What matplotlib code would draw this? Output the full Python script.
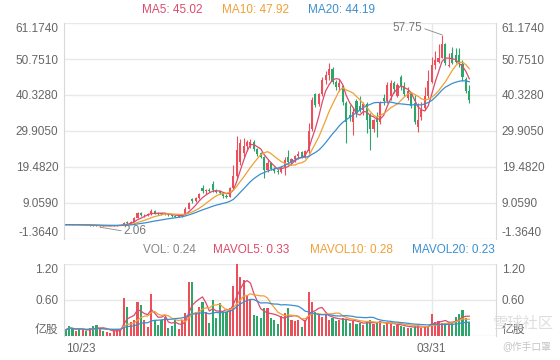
import matplotlib
matplotlib.use('Agg')
import matplotlib.pyplot as plt
import numpy as np
import pandas as pd

plt.rcParams['font.family'] = ['Liberation Sans', 'Noto Sans CJK SC', 'DejaVu Sans']

# daily candles, 10/23 .. mid April
open_ = [2.85, 2.80, 2.78, 2.74, 2.76, 2.66, 2.70, 2.58, 2.62, 2.50,
         2.40, 2.46, 2.38, 2.44, 2.54, 2.58, 2.62, 2.74, 3.50, 3.20,
         3.70, 4.80, 6.20, 5.50, 5.70, 6.00, 6.80, 6.10, 6.20, 5.80,
         6.00, 5.50, 5.40, 5.10, 5.30, 5.70, 7.40, 10.3, 9.50, 10.4,
         13.4, 12.4, 12.9, 14.5, 12.9, 12.6, 12.0, 11.2, 10.8, 13.3,
         16.8, 21.0, 23.5, 25.5, 25.8, 26.6, 24.6, 23.4, 22.5, 18.6,
         20.5, 19.0, 18.2, 18.0, 19.5, 22.5, 20.8, 21.8, 22.6, 23.8,
         22.5, 24.2, 30.5, 40.5, 37.8, 40.5, 44.6, 46.2, 48.0, 44.2,
         42.5, 43.0, 38.0, 34.5, 32.5, 38.5, 37.2, 36.0, 37.6, 34.5,
         30.5, 34.0, 32.5, 39.5, 38.5, 40.0, 43.8, 40.0, 45.5, 42.8,
         39.5, 41.0, 38.0, 31.0, 34.0, 36.5, 40.0, 44.0, 49.0, 50.0,
         51.1, 55.0, 48.6, 52.5, 52.0, 52.0, 49.3, 45.0, 41.5]
high = [2.95, 2.90, 2.85, 2.82, 2.80, 2.74, 2.76, 2.66, 2.70, 2.58,
        2.52, 2.55, 2.50, 2.58, 2.62, 2.68, 2.80, 3.60, 3.80, 3.90,
        5.00, 6.50, 6.50, 5.90, 6.30, 7.20, 6.90, 6.40, 6.30, 6.30,
        6.10, 5.70, 5.50, 5.50, 5.90, 7.80, 9.30, 10.6, 10.8, 12.0,
        14.2, 13.2, 13.5, 15.3, 13.1, 12.8, 12.3, 11.8, 13.6, 20.0,
        28.4, 27.5, 27.8, 27.3, 27.6, 27.3, 25.0, 23.9, 22.8, 21.5,
        20.8, 19.5, 18.8, 19.8, 22.4, 24.4, 22.2, 23.0, 24.0, 24.2,
        24.5, 32.2, 39.7, 41.0, 41.0, 45.5, 47.2, 49.6, 48.5, 44.6,
        45.0, 43.3, 38.5, 37.5, 36.9, 39.2, 40.0, 38.2, 38.2, 35.0,
        33.5, 35.5, 38.5, 40.5, 44.0, 44.7, 44.5, 43.8, 46.1, 44.1,
        42.6, 41.2, 40.3, 38.0, 38.3, 42.6, 47.5, 51.3, 53.0, 55.0,
        57.75, 55.5, 52.5, 54.2, 53.9, 53.9, 50.5, 45.5, 43.2]
low = [2.75, 2.72, 2.70, 2.68, 2.62, 2.60, 2.55, 2.50, 2.45, 2.30,
       2.06, 2.30, 2.28, 2.38, 2.46, 2.50, 2.56, 2.70, 3.00, 3.10,
       3.60, 4.60, 5.30, 5.00, 5.40, 5.70, 5.80, 5.60, 5.60, 5.50,
       5.30, 5.00, 4.90, 4.90, 5.10, 5.60, 7.20, 9.00, 9.30, 10.2,
       11.9, 11.8, 12.2, 12.3, 11.9, 11.8, 10.6, 10.4, 10.7, 13.2,
       16.0, 20.0, 22.5, 24.0, 25.0, 24.2, 22.6, 22.0, 16.3, 18.0,
       18.5, 17.8, 17.5, 17.7, 17.2, 20.0, 20.2, 21.0, 21.8, 22.0,
       22.2, 23.6, 30.0, 36.8, 37.0, 40.0, 43.5, 44.6, 43.5, 41.8,
       41.5, 37.5, 26.4, 32.8, 28.7, 34.0, 35.5, 34.5, 29.3, 24.4,
       29.5, 28.2, 32.0, 37.5, 38.0, 38.9, 41.0, 39.7, 41.8, 40.0,
       38.9, 36.5, 32.0, 29.6, 33.0, 36.0, 39.5, 43.8, 48.0, 49.5,
       51.0, 49.0, 48.4, 49.3, 49.6, 48.4, 44.5, 41.0, 38.0]
close = [2.80, 2.78, 2.74, 2.76, 2.66, 2.70, 2.58, 2.62, 2.50, 2.40,
         2.46, 2.38, 2.44, 2.54, 2.58, 2.62, 2.74, 3.40, 3.20, 3.70,
         4.80, 6.10, 5.50, 5.70, 6.00, 6.80, 6.10, 5.90, 5.80, 6.10,
         5.50, 5.30, 5.10, 5.30, 5.70, 7.40, 9.10, 9.50, 10.4, 11.7,
         12.4, 12.9, 12.6, 12.9, 12.2, 12.0, 11.0, 10.8, 13.3, 16.8,
         24.5, 26.5, 25.5, 26.8, 26.6, 24.6, 23.2, 22.5, 18.6, 20.5,
         19.0, 18.2, 18.0, 19.5, 21.5, 20.8, 21.8, 22.6, 23.3, 22.5,
         24.2, 30.0, 38.8, 37.5, 40.5, 44.6, 46.2, 47.8, 44.2, 42.5,
         43.8, 38.2, 32.5, 33.6, 35.5, 35.0, 36.0, 37.6, 33.0, 30.5,
         33.0, 32.5, 38.0, 38.5, 43.2, 43.8, 42.0, 43.2, 42.8, 40.5,
         41.5, 37.0, 32.5, 33.0, 36.1, 40.0, 44.5, 49.0, 50.5, 51.1,
         55.0, 49.5, 49.0, 49.5, 50.0, 49.3, 45.5, 41.5, 38.8]
# volume, 亿股
vol = [0.10, 0.17, 0.11, 0.09, 0.12, 0.10, 0.08, 0.13, 0.16, 0.18,
       0.12, 0.09, 0.07, 0.05, 0.10, 0.12, 0.10, 0.63, 0.48, 0.24,
       0.27, 0.57, 0.52, 0.27, 0.15, 0.70, 0.27, 0.18, 0.27, 0.32,
       0.13, 0.17, 0.27, 0.12, 0.27, 0.38, 0.90, 0.90, 0.40, 0.49,
       0.57, 0.40, 0.22, 0.60, 0.30, 0.55, 0.38, 0.40, 0.47, 0.83,
       1.20, 0.98, 0.93, 0.68, 0.62, 0.35, 0.33, 0.30, 0.47, 0.47,
       0.30, 0.27, 0.20, 0.33, 0.38, 0.47, 0.27, 0.25, 0.27, 0.15,
       0.27, 0.73, 0.57, 0.40, 0.35, 0.32, 0.35, 0.27, 0.30, 0.25,
       0.27, 0.30, 0.28, 0.22, 0.25, 0.20, 0.22, 0.18, 0.24, 0.27,
       0.20, 0.22, 0.25, 0.18, 0.23, 0.20, 0.17, 0.19, 0.16, 0.15,
       0.14, 0.13, 0.16, 0.18, 0.14, 0.15, 0.15, 0.37, 0.23, 0.25,
       0.22, 0.22, 0.23, 0.23, 0.32, 0.36, 0.43, 0.30, 0.24]

date_pos = [0, 107]
date_labels = ['10/23', '03/31']
price_ticks = [-1.364, 9.059, 19.482, 29.905, 40.328, 50.751, 61.174]
vol_ticks = [0, 0.6, 1.2]
vol_tick_labels = ['亿股', '0.60', '1.20']

UP = '#ec4f5a'
DOWN = '#2ca66b'
C5 = '#dc4a6e'
C10 = '#f0a035'
C20 = '#3a8fd0'
TXT = '#666666'
GRID = '#e8e8e8'

o = np.array(open_)
c = np.array(close)
n = len(c)
idx = np.arange(n)
up = c >= o
colors = np.where(up, UP, DOWN)

cs = pd.Series(close)
vs = pd.Series(vol)
ma = {k: cs.rolling(k, min_periods=1).mean() for k in (5, 10, 20)}
mv = {k: vs.rolling(k, min_periods=1).mean() for k in (5, 10, 20)}

fig = plt.figure(figsize=(5.6, 3.6), dpi=100)
ax = fig.add_axes([64/560, 1-239/360, 432/560, 216/360])
axv = fig.add_axes([64/560, 1-336/360, 432/560, 72/360])

for a in (ax, axv):
    a.set_xlim(-0.5, 125.8)
    a.axvline(107, color=GRID, lw=1, zorder=0)
    a.grid(axis='y', color=GRID, lw=1, zorder=0)
    a.set_axisbelow(True)
    for s in ('top', 'bottom'):
        a.spines[s].set_visible(False)
    for s in ('left', 'right'):
        a.spines[s].set_color('#d9d9d9')
    a.tick_params(axis='y', length=0, labelsize=8.5, labelcolor=TXT,
                  labelleft=True, labelright=True, pad=4)

# candles
ax.vlines(idx, low, high, colors=colors, lw=0.8, zorder=2)
body_h = np.maximum(np.abs(c - o), 0.12)
ax.bar(idx, body_h, bottom=np.minimum(o, c), width=0.62, color=colors, lw=0, zorder=2)
ax.plot(idx, ma[5], color=C5, lw=0.9, zorder=3)
ax.plot(idx, ma[10], color=C10, lw=0.9, zorder=3)
ax.plot(idx, ma[20], color=C20, lw=0.9, zorder=3)
ax.set_ylim(price_ticks[0], price_ticks[-1])
ax.set_yticks(price_ticks)
ax.set_yticklabels(['%.4f' % t for t in price_ticks])
ax.set_xticks([])

imax = int(np.argmax(high))
imin = int(np.argmin(low))
ax.annotate('%.2f' % high[imax], xy=(imax, high[imax]), xytext=(-20, 7),
            textcoords='offset pixels', ha='right', va='center', fontsize=8.5, color='#777777',
            arrowprops=dict(arrowstyle='-', color='#888888', lw=0.6, shrinkA=0, shrinkB=0, relpos=(1, 0.5)))
ax.annotate('%.2f' % low[imin], xy=(imin, low[imin]), xytext=(24, -4),
            textcoords='offset pixels', ha='left', va='center', fontsize=8.5, color='#777777',
            arrowprops=dict(arrowstyle='-', color='#888888', lw=0.6, shrinkA=0, shrinkB=0, relpos=(0, 0.5)))

# volume
axv.bar(idx, vol, width=0.62, color=colors, lw=0, zorder=2)
axv.plot(idx, mv[5], color=C5, lw=0.9, zorder=3)
axv.plot(idx, mv[10], color=C10, lw=0.9, zorder=3)
axv.plot(idx, mv[20], color=C20, lw=0.9, zorder=3)
axv.set_ylim(0, 1.2)
axv.set_yticks(vol_ticks)
axv.set_yticklabels(vol_tick_labels)
axv.set_xticks(date_pos)
axv.set_xticklabels(date_labels)
axv.tick_params(axis='x', length=0, labelsize=8.5, labelcolor=TXT, pad=5)
axv.get_xticklabels()[0].set_ha('left')

for a in (ax, axv):
    ticks = a.yaxis.get_major_ticks()
    for lab in (ticks[0].label1, ticks[0].label2):
        lab.set_va('bottom')
    for lab in (ticks[-1].label1, ticks[-1].label2):
        lab.set_va('top')

# legends
y1 = 1 - 10/360
fig.text(142/560, y1, 'MA5: %.2f' % ma[5].iloc[-1], color=C5, fontsize=8.5, va='center')
fig.text(222/560, y1, 'MA10: %.2f' % ma[10].iloc[-1], color=C10, fontsize=8.5, va='center')
fig.text(308/560, y1, 'MA20: %.2f' % ma[20].iloc[-1], color=C20, fontsize=8.5, va='center')
y2 = 1 - 250/360
fig.text(143/560, y2, 'VOL: %.2f' % vol[-1], color='#888888', fontsize=8.5, va='center')
fig.text(213/560, y2, 'MAVOL5: %.2f' % mv[5].iloc[-1], color=C5, fontsize=8.5, va='center')
fig.text(310/560, y2, 'MAVOL10: %.2f' % mv[10].iloc[-1], color=C10, fontsize=8.5, va='center')
fig.text(412/560, y2, 'MAVOL20: %.2f' % mv[20].iloc[-1], color=C20, fontsize=8.5, va='center')

# watermark
fig.text(493/560, 1 - 324/360, '雪球社区', color='#d6d6d6', fontsize=11, va='center', alpha=0.8)
fig.text(502/560, 1 - 347/360, '@作手口罩', color='#c4c4c4', fontsize=7, va='center')

fig.savefig('out.png', dpi=100)
